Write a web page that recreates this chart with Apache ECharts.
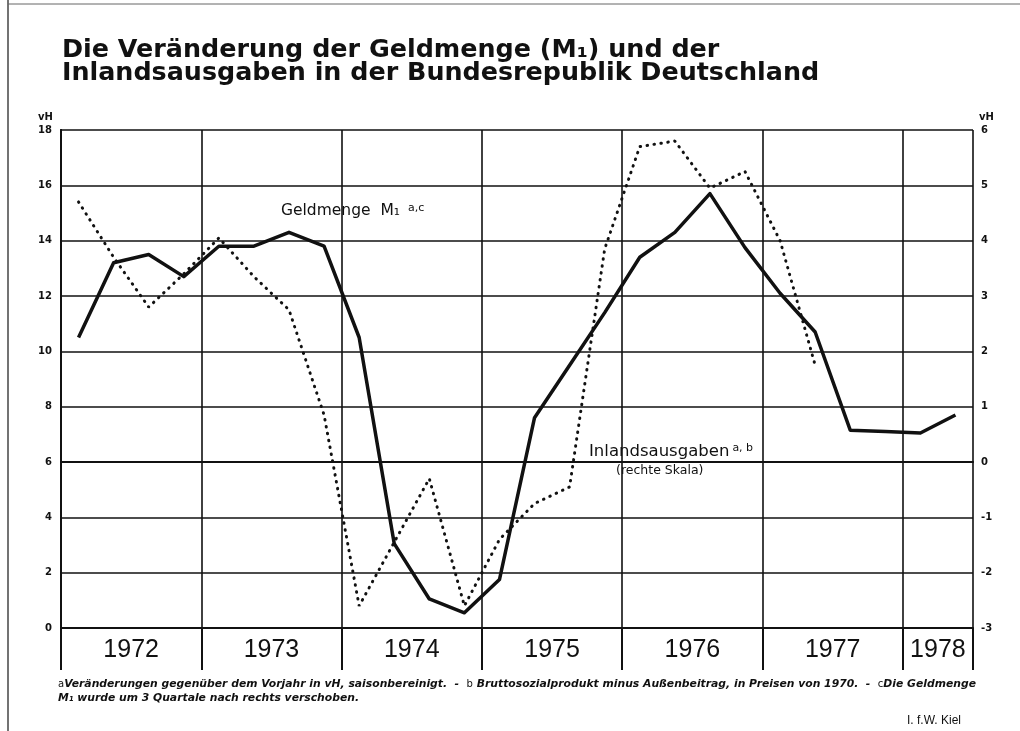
<!DOCTYPE html>
<html>
<head>
<meta charset="utf-8">
<script src="https://cdn.jsdelivr.net/npm/echarts@6/dist/echarts.min.js"></script>
<style>
  html, body { margin: 0; padding: 0; background: #fff; }
  #chart { width: 1020px; height: 731px; }
</style>
</head>
<body>
<div id="chart"></div>
<script>
'use strict';

// quarters 1972 I .. 1978 II
var quarters = [
  '72/I', '72/II', '72/III', '72/IV',
  '73/I', '73/II', '73/III', '73/IV',
  '74/I', '74/II', '74/III', '74/IV',
  '75/I', '75/II', '75/III', '75/IV',
  '76/I', '76/II', '76/III', '76/IV',
  '77/I', '77/II', '77/III', '77/IV',
  '78/I', '78/II'
];
// Geldmenge M1, vH (left scale)
var geldmenge = [10.5, 13.2, 13.5, 12.7, 13.8, 13.8, 14.3, 13.8,
  10.5, 3.05, 1.05, 0.55, 1.75, 7.6, 9.5, 11.4,
  13.4, 14.3, 15.7, 13.75, 12.1, 10.7, 7.15, 7.1, 7.05, 7.7];
// Inlandsausgaben, vH (right scale)
var inlandsausgaben = [4.7, 3.7, 2.8, 3.4, 4.05, 3.35, 2.75, 0.85,
  -2.6, -1.45, -0.3, -2.6, -1.4, -0.75, -0.45, 3.85,
  5.7, 5.8, 4.95, 5.25, 4.0, 1.75];

var years = ['1972', '1973', '1974', '1975', '1976', '1977', '1978'];
var yearQuarters = [4, 4, 4, 4, 4, 4, 2];

var black = '#111';
var labelFont = 'bold 10px "DejaVu Sans"';

var makeChart = function() {
  var myChart = echarts.init(document.getElementById('chart'));

  var bounds = [0];
  var centers = [];
  yearQuarters.forEach(function(n, i) {
    centers.push(bounds[i] + n / 2);
    bounds.push(bounds[i] + n);
  });

  var toPoints = function(arr) {
    return arr.map(function(v, i) {
      return [i + 0.5, v];
    });
  };

  var option = {
    backgroundColor: '#fff',
    animation: false,
    grid: {
      left: 61,
      right: 47,
      top: 130,
      height: 498
    },
    xAxis: [{
      type: 'value',
      min: 0,
      max: quarters.length,
      interval: 4,
      position: 'bottom',
      axisLine: {
        show: true,
        lineStyle: { color: black, width: 2 }
      },
      axisTick: {
        show: true,
        customValues: bounds,
        inside: false,
        length: 42,
        lineStyle: { color: black, width: 2 }
      },
      axisLabel: {
        customValues: centers,
        margin: 10,
        color: black,
        fontFamily: 'Liberation Sans',
        fontSize: 25,
        formatter: function(value) {
          return years[centers.indexOf(value)];
        }
      },
      splitLine: {
        show: true,
        lineStyle: { color: black, width: 1.6 }
      }
    }, {
      type: 'value',
      min: 0,
      max: quarters.length,
      position: 'bottom',
      offset: 42,
      axisLine: {
        show: true,
        lineStyle: { color: black, width: 2 }
      },
      axisTick: { show: false },
      axisLabel: { show: false },
      splitLine: { show: false }
    }],
    yAxis: [{
      type: 'value',
      position: 'left',
      min: 0,
      max: 18,
      interval: 2,
      axisLine: {
        show: true,
        lineStyle: { color: black, width: 2 }
      },
      axisTick: { show: false },
      axisLabel: {
        color: black,
        margin: 9,
        fontFamily: 'DejaVu Sans',
        fontWeight: 'bold',
        fontSize: 10
      },
      splitLine: {
        show: true,
        lineStyle: { color: black, width: 1.6 }
      }
    }, {
      type: 'value',
      position: 'right',
      min: -3,
      max: 6,
      interval: 1,
      axisLine: {
        show: true,
        lineStyle: { color: black, width: 2 }
      },
      axisTick: { show: false },
      axisLabel: {
        color: black,
        margin: 8,
        fontFamily: 'DejaVu Sans',
        fontWeight: 'bold',
        fontSize: 10
      },
      splitLine: { show: false }
    }],
    series: [{
      name: 'Geldmenge M1',
      type: 'line',
      yAxisIndex: 0,
      symbol: 'none',
      lineStyle: { color: black, width: 3.5, join: 'round' },
      data: toPoints(geldmenge)
    }, {
      name: 'Inlandsausgaben',
      type: 'line',
      yAxisIndex: 1,
      symbol: 'none',
      lineStyle: { color: black, width: 3, type: [0.5, 6.5], cap: 'round' },
      data: toPoints(inlandsausgaben)
    }],
    graphic: [{
      type: 'line',
      shape: { x1: 8, y1: 0, x2: 8, y2: 731 },
      style: { stroke: '#444', lineWidth: 1.5 }
    }, {
      type: 'line',
      shape: { x1: 8, y1: 4, x2: 1020, y2: 4 },
      style: { stroke: '#666', lineWidth: 1 }
    }, {
      type: 'text',
      x: 62,
      y: 38,
      style: {
        text: 'Die Veränderung der Geldmenge (M₁) und der',
        font: 'bold 25.4px "DejaVu Sans"',
        fill: black
      }
    }, {
      type: 'text',
      x: 62,
      y: 61,
      style: {
        text: 'Inlandsausgaben in der Bundesrepublik Deutschland',
        font: 'bold 25.4px "DejaVu Sans"',
        fill: black
      }
    }, {
      type: 'text',
      x: 38,
      y: 112,
      style: { text: 'vH', font: labelFont, fill: black }
    }, {
      type: 'text',
      x: 979,
      y: 112,
      style: { text: 'vH', font: labelFont, fill: black }
    }, {
      type: 'text',
      x: 281,
      y: 203,
      style: {
        text: '{t|Geldmenge  M₁}{s|a,c}',
        rich: {
          t: { fontFamily: 'DejaVu Sans', fontSize: 15.5, fill: black },
          s: { fontFamily: 'DejaVu Sans', fontSize: 11, fill: black, verticalAlign: 'top', padding: [0, 0, 0, 8] }
        }
      }
    }, {
      type: 'text',
      x: 589,
      y: 443,
      style: {
        text: '{t|Inlandsausgaben}{s|a, b}',
        rich: {
          t: { fontFamily: 'DejaVu Sans', fontSize: 16.5, fill: black },
          s: { fontFamily: 'DejaVu Sans', fontSize: 11, fill: black, verticalAlign: 'top', padding: [0, 0, 0, 3] }
        }
      }
    }, {
      type: 'text',
      x: 616,
      y: 464,
      style: {
        text: '(rechte Skala)',
        font: '12.5px "DejaVu Sans"',
        fill: black
      }
    }, {
      type: 'text',
      x: 58,
      y: 679,
      style: {
        text: '{s|a}{f|Veränderungen gegenüber dem Vorjahr in vH, saisonbereinigt.  -  }{s|b}{f| Bruttosozialprodukt minus Außenbeitrag, in Preisen von 1970.  -  }{s|c}{f|Die Geldmenge}',
        rich: {
          f: { fontFamily: 'DejaVu Sans', fontStyle: 'italic', fontWeight: 'bold', fontSize: 10.8, fill: black },
          s: { fontFamily: 'DejaVu Sans', fontSize: 10, fill: black, verticalAlign: 'top' }
        }
      }
    }, {
      type: 'text',
      x: 58,
      y: 693,
      style: {
        text: 'M₁ wurde um 3 Quartale nach rechts verschoben.',
        font: 'italic bold 10.8px "DejaVu Sans"',
        fill: black
      }
    }, {
      type: 'text',
      x: 907,
      y: 715,
      style: {
        text: 'I. f.W. Kiel',
        font: '12px "Liberation Sans"',
        fill: black
      }
    }]
  };
  myChart.setOption(option);
};

makeChart();
</script>
</body>
</html>
